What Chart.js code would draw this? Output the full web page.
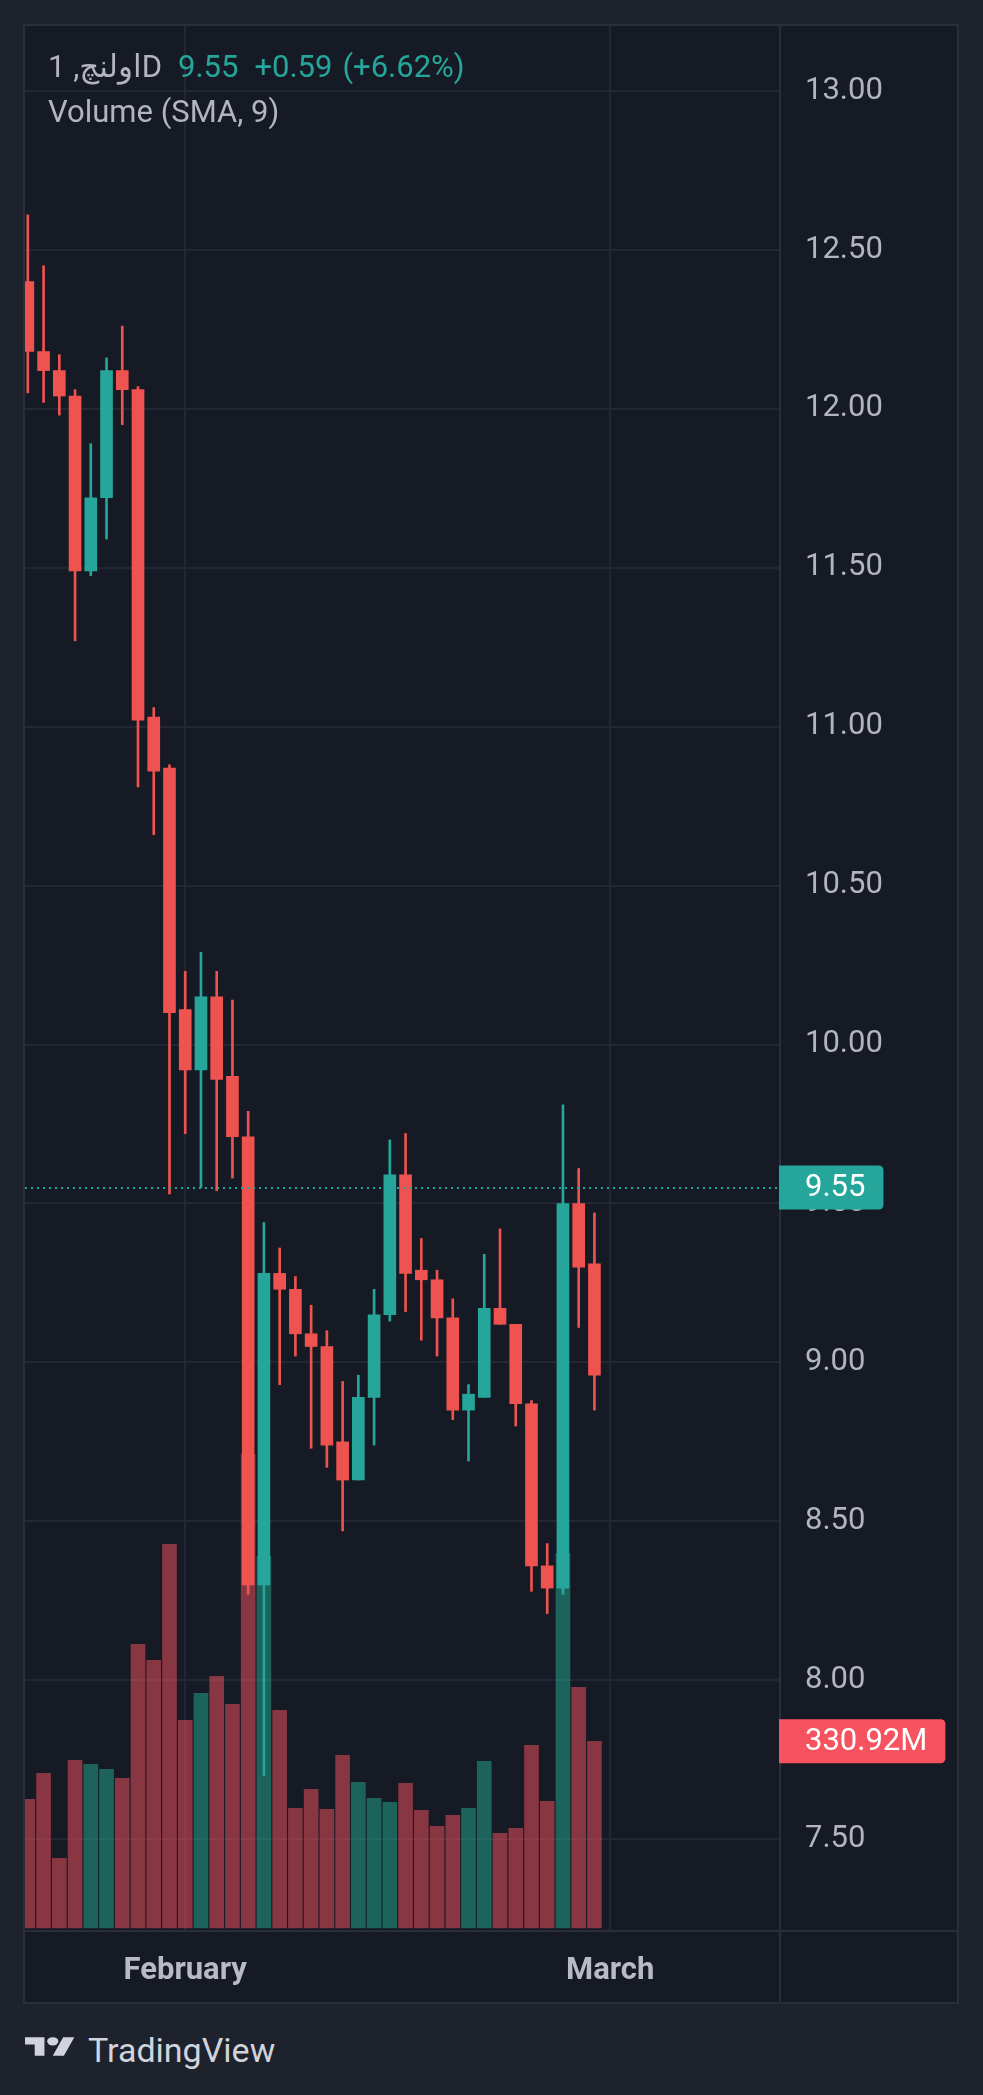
<!DOCTYPE html>
<html>
<head>
<meta charset="utf-8">
<script src="https://cdn.jsdelivr.net/npm/chart.js@4.4.1/dist/chart.umd.min.js"></script>
<style>
  html, body { margin: 0; padding: 0; background: #1e222d; width: 983px; height: 2095px; overflow: hidden;
    font-family: Roboto, "DejaVu Sans", sans-serif; }
  #panel { position: absolute; left: 23px; top: 24px; width: 932px; height: 1976px;
    border: 2px solid #2a2e39; background: #161a25; }
  #panel canvas { position: absolute; left: 0; top: 0; }
  #legend { position: absolute; left: 23px; top: 18px; font-size: 31px; line-height: 45px; color: #b2b5be; white-space: nowrap; }
  #legend .up { color: #26a69a; margin-left: 16px; }
  #logo { position: absolute; left: 25px; top: 2033px; }
  #brand { position: absolute; left: 88px; top: 2033px; font-size: 34px; line-height: 34px; color: #d1d4dc; }
</style>
</head>
<body>
<div id="panel">
  <canvas id="chart" width="932" height="1976"></canvas>
  <div id="legend">
    <div><span>اولنچ, 1D</span><span class="up">9.55</span><span class="up">+0.59</span><span class="up" style="margin-left:10px">(+6.62%)</span></div>
    <div>Volume (SMA, 9)</div>
  </div>
</div>
<svg id="logo" width="50" height="29" viewBox="0 0 36 28" preserveAspectRatio="none">
  <path d="M14 22H7V11H0V4h14v18zM28 22h-8l7.5-18h8L28 22z" fill="#d1d4dc"/>
  <circle cx="20" cy="8" r="4" fill="#d1d4dc"/>
</svg>
<div id="brand">TradingView</div>
<script>
// daily candles, oldest first
const opens  = [12.40, 12.18, 12.12, 12.04, 11.49, 11.72, 12.12, 12.06, 11.03, 10.87,
                10.11, 9.92, 10.15, 9.90, 9.71, 8.30, 9.28, 9.23, 9.09, 9.05,
                8.75, 8.63, 8.89, 9.15, 9.59, 9.29, 9.26, 9.14, 8.85, 8.89,
                9.17, 9.12, 8.87, 8.36, 8.29, 9.50, 9.31];
const highs  = [12.61, 12.45, 12.17, 12.06, 11.89, 12.16, 12.26, 12.07, 11.06, 10.88,
                10.23, 10.29, 10.23, 10.14, 9.79, 9.44, 9.36, 9.27, 9.18, 9.10,
                8.94, 8.96, 9.23, 9.70, 9.72, 9.39, 9.29, 9.20, 8.93, 9.34,
                9.42, 9.12, 8.88, 8.43, 9.81, 9.61, 9.47];
const lows   = [12.05, 12.02, 11.98, 11.27, 11.475, 11.59, 11.95, 10.81, 10.66, 9.53,
                9.72, 9.55, 9.54, 9.58, 8.27, 7.70, 8.93, 9.02, 8.73, 8.67,
                8.47, 8.63, 8.74, 9.13, 9.16, 9.07, 9.02, 8.82, 8.69, 8.89,
                9.12, 8.80, 8.28, 8.21, 8.27, 9.11, 8.85];
const closes = [12.18, 12.12, 12.04, 11.49, 11.72, 12.12, 12.06, 11.02, 10.86, 10.10,
                9.92, 10.15, 9.89, 9.71, 8.30, 9.28, 9.23, 9.09, 9.05, 8.74,
                8.63, 8.89, 9.15, 9.59, 9.28, 9.26, 9.14, 8.85, 8.90, 9.17,
                9.12, 8.87, 8.36, 8.29, 9.50, 9.30, 8.96];
// volume in millions
const volumes = [228.1, 274.2, 123.5, 297.2, 290.2, 281.3, 265.3, 502.9, 474.5, 680.1,
                 368.1, 416.0, 446.1, 396.5, 839.6, 658.8, 385.9, 212.2, 245.8, 210.4,
                 306.1, 258.2, 229.9, 222.8, 256.5, 208.6, 180.3, 199.8, 212.2, 295.5,
                 167.9, 176.7, 323.8, 224.6, 664.2, 426.6, 330.92];
const priceTicks = [7.5, 8, 8.5, 9, 9.5, 10, 10.5, 11, 11.5, 12, 12.5, 13];
const monthStarts = [10, 37];
const monthNames = ["February", "March"];
const lastPrice = 9.55;
const lastVolume = 330.92;

const upColor = "#26a69a";
const downColor = "#ef5350";
const upVol = "rgba(34, 171, 148, 0.5)";
const downVol = "rgba(247, 82, 95, 0.5)";
const gridColor = "#232733";
const frameColor = "#2a2e39";
const labelColor = "#b2b5be";

const isUp = opens.map((o, i) => closes[i] >= o);

function roundBox(ctx, x, y, w, h, r) {
  ctx.beginPath();
  ctx.moveTo(x, y);
  ctx.lineTo(x + w - r, y);
  ctx.quadraticCurveTo(x + w, y, x + w, y + r);
  ctx.lineTo(x + w, y + h - r);
  ctx.quadraticCurveTo(x + w, y + h, x + w - r, y + h);
  ctx.lineTo(x, y + h);
  ctx.closePath();
}

const overlay = {
  id: "overlay",
  afterDatasetsDraw(chart) {
    const { ctx, chartArea, scales } = chart;
    const y = Math.round(scales.y.getPixelForValue(lastPrice));
    ctx.save();
    ctx.strokeStyle = upColor;
    ctx.lineWidth = 2;
    ctx.setLineDash([2, 4]);
    ctx.beginPath();
    ctx.moveTo(chartArea.left, y);
    ctx.lineTo(chartArea.right, y);
    ctx.stroke();
    ctx.restore();
  },
  afterDraw(chart) {
    const { ctx, chartArea, scales } = chart;
    ctx.save();
    ctx.fillStyle = frameColor;
    ctx.fillRect(chartArea.right - 1, 0, 2, chart.height);
    ctx.fillRect(0, chartArea.bottom - 1, chart.width, 2);

    ctx.font = "31px Roboto";
    ctx.textBaseline = "middle";
    const boxes = [
      { text: lastPrice.toFixed(2), y: scales.y.getPixelForValue(lastPrice), color: upColor },
      { text: lastVolume.toFixed(2) + "M", y: scales.yVol.getPixelForValue(lastVolume), color: "#f7525f" },
    ];
    boxes.forEach((b) => {
      const w = 25 + ctx.measureText(b.text).width + 19;
      ctx.fillStyle = b.color;
      roundBox(ctx, chartArea.right - 1, b.y - 22, w, 44, 5);
      ctx.fill();
      ctx.fillStyle = "#ffffff";
      ctx.fillText(b.text, chartArea.right + 25, b.y + 1);
    });
    ctx.restore();
  },
};

document.addEventListener("DOMContentLoaded", () => {
  const ctx = document.getElementById("chart").getContext("2d");
  new Chart(ctx, {
    type: "bar",
    data: {
      datasets: [
        {
          label: "body",
          data: opens.map((o, i) => ({ x: i, y: [o, closes[i]] })),
          backgroundColor: isUp.map((u) => (u ? upColor : downColor)),
          barThickness: 12,
          minBarLength: 2,
          grouped: false,
          yAxisID: "y",
          order: 1,
        },
        {
          label: "wick",
          data: lows.map((l, i) => ({ x: i, y: [l, highs[i]] })),
          backgroundColor: isUp.map((u) => (u ? upColor : downColor)),
          barThickness: 2,
          grouped: false,
          yAxisID: "y",
          order: 2,
        },
        {
          label: "volume",
          data: volumes.map((v, i) => ({ x: i, y: v })),
          backgroundColor: isUp.map((u) => (u ? upVol : downVol)),
          barThickness: 14,
          grouped: false,
          yAxisID: "yVol",
          order: 3,
        },
      ],
    },
    options: {
      responsive: false,
      animation: false,
      devicePixelRatio: 1,
      layout: { padding: 0 },
      plugins: { legend: { display: false }, tooltip: { enabled: false } },
      scales: {
        x: {
          type: "linear",
          offset: false,
          min: -0.18,
          max: 47.79,
          afterBuildTicks: (s) => {
            s.ticks = monthStarts.map((v) => ({ value: v }));
          },
          afterFit: (s) => {
            s.height = 71;
            s.paddingLeft = 0;
            s.paddingRight = 0;
          },
          ticks: {
            callback: (v, i) => monthNames[i],
            autoSkip: false,
            maxRotation: 0,
            minRotation: 0,
            padding: 22,
            color: "#b8bbc4",
            font: { family: "Roboto", size: 31, weight: "bold" },
          },
          grid: { color: gridColor, lineWidth: 2, drawTicks: false, offset: false },
          border: { display: false },
        },
        y: {
          type: "linear",
          position: "right",
          min: 7.2114,
          max: 13.204,
          afterBuildTicks: (s) => {
            s.ticks = priceTicks.map((v) => ({ value: v }));
          },
          afterFit: (s) => {
            s.width = 177;
            s.paddingTop = 0;
            s.paddingBottom = 0;
          },
          ticks: {
            callback: (v) => v.toFixed(2),
            autoSkip: false,
            padding: 25,
            color: labelColor,
            font: { family: "Roboto", size: 31 },
          },
          grid: { color: gridColor, lineWidth: 2, drawTicks: false },
          border: { display: false },
        },
        yVol: {
          type: "linear",
          display: false,
          min: -5.3,
          max: 3371,
        },
      },
    },
    plugins: [overlay],
  });
});
</script>
</body>
</html>
